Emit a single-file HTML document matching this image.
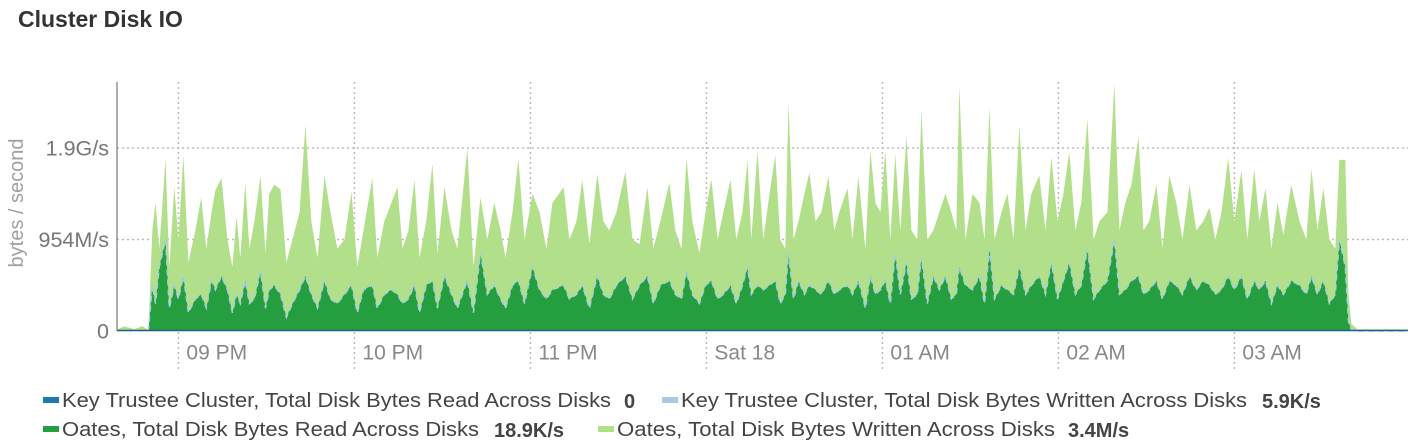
<!DOCTYPE html>
<html><head><meta charset="utf-8"><style>
html,body{margin:0;padding:0;background:#fff;}
svg{display:block;font-family:"Liberation Sans",Arial,sans-serif;}
</style></head><body>
<svg id="chart" width="1414" height="448">
<text x="18" y="27" font-size="23" font-weight="bold" fill="#333">Cluster Disk IO</text>
<g id="grid"></g>
<g id="areas"></g>
<g id="axes"></g>
<g id="legend"></g>
</svg>
<script>
// minutes since 20:00
const tMin = [39.2,41.6,45,47.7,49.8,51.1,52.2,53.5,55.6,56.9,58.6,60,61.7,63.4,65.8,67.8,69.5,71.3,72.6,74.7,76.7,78.4,79.8,81.1,82.8,84.2,85.9,88,89.7,91,92.7,94.8,96.8,98.9,101.3,103.3,105.3,107.4,109.8,111.8,114.2,116.6,119,121,123.1,126.1,127.8,130.2,132.6,134.7,136.4,138.4,140.5,142.2,144.5,146.6,148.3,150.7,153.1,155.1,158.5,160.6,163,165.3,167.7,169.8,171.5,173.9,175.9,178,180.7,183.1,185.5,187.5,191.3,193.3,195.7,197.7,200.1,202.8,204.9,206.9,209.3,212.4,214.8,217.2,219.9,221.9,224.3,227.4,229.4,231.5,233.2,235.2,237.6,239.7,241.7,243.8,245.8,248.2,250.2,252.3,254,255.3,257.4,259.4,261.5,263.5,265.2,266.9,268,269.7,271.4,273.4,275.1,277.2,279.2,281.6,283.6,285.3,288.1,289.8,291.8,294.2,295.9,297.6,299.3,301,302.7,304.4,306.1,308.2,309.9,311.9,313.3,315.3,317.4,319.4,321.5,323.5,325.2,326.2,328.3,330.7,333.1,334.8,336.5,338.2,340.6,342.6,344.7,346.7,348.8,350.8,353.5,355.6,357.6,359.7,361.7,363.7,365.8,367.8,369.9,372,374,376.7,379.1,380.8,382.8,384.9,387.3,389,391,393.4,395.5,397.8,400.2,402.3,404.7,407,409.4,411.5,413.5,415.6,417.9,420,422.4,424.4,426.8,428.5,430.6,432.6,434.7,436.7,439.4,442.2,444.5,446.3,448.3,450.3,452.4,454.4,455.8,457.8,458.9,459.9,461.9,479];
// Oates written (MB/s)
const writtenMB = [20,50,20,55,10,1100,1400,900,1880,700,1570,1000,1920,750,1100,1460,900,1300,1540,1670,1000,700,1250,800,1620,900,1200,1690,850,1500,1600,1550,750,1000,1300,2250,1200,800,1700,1300,900,1000,1520,700,1100,1670,800,1200,1400,1570,900,1100,1650,800,1200,1830,850,1570,1100,900,2000,700,1460,1000,1400,1100,800,1300,1880,1000,1500,1300,900,1400,1570,1000,1200,1650,950,1715,1200,1100,1300,1740,1000,950,1570,900,1200,1620,1100,900,1890,1200,850,1300,1660,1000,1300,1650,1000,1300,1870,1000,1970,1000,1500,1920,1000,900,2500,1000,1200,1500,1730,1200,1300,1690,1100,1300,1560,1000,1690,900,1970,1400,1300,1970,1000,1930,1100,2130,1100,1000,2420,1000,1100,1300,1500,1300,1100,2680,1000,1500,1400,1000,2450,1000,1300,1500,1000,2240,1100,1500,1700,1100,1900,1200,1500,1960,1100,1400,2320,1000,1200,1300,2700,1100,1400,1600,2120,1100,1200,1600,900,1700,1400,1000,1600,1100,1200,1350,1000,1300,1890,1200,1760,1000,1770,1200,1560,900,1400,1050,1600,1200,1000,1770,1100,1560,1000,900,1870,1870,400,80,20,20];
// Oates read (MB/s)
const readMB = [5,5,5,5,5,500,300,700,1000,250,500,350,600,200,350,400,250,550,450,600,450,200,400,300,550,300,350,650,250,450,500,400,150,300,450,600,400,250,550,350,300,400,500,200,450,500,250,400,450,400,300,350,500,200,500,550,250,600,400,250,550,200,850,400,500,350,250,500,550,300,700,450,350,450,500,350,400,500,250,600,400,350,500,600,350,500,600,300,500,550,400,350,650,400,300,500,550,350,400,500,300,500,700,400,500,450,500,550,300,400,850,350,550,400,500,450,400,550,400,450,500,400,550,250,600,400,450,550,300,850,400,750,350,400,800,300,600,450,600,350,400,700,500,450,600,300,900,350,500,450,400,700,400,500,600,400,750,350,550,750,400,500,900,350,450,550,1000,400,450,550,600,400,450,550,350,550,500,400,600,450,550,500,400,450,600,450,600,350,550,450,550,300,500,400,550,500,400,600,400,550,300,400,1000,700,100,10,0,0];
const yTickVals = [0, 1000, 2000];
const yTickLabels = ["0", "954M/s", "1.9G/s"];
const xTickMins = [60,120,180,240,300,360,420];
const xTickLabels = ["09 PM","10 PM","11 PM","Sat 18","01 AM","02 AM","03 AM"];

const NS="http://www.w3.org/2000/svg";
const X0=117.4, PXM=2.9333, Y0=331, PYU=0.0915;
const xs=t=>X0+(t-39.2)*PXM;
const ys=v=>Y0-v*PYU;
function mk(tag,attrs,parent){const e=document.createElementNS(NS,tag);for(const k in attrs)e.setAttribute(k,attrs[k]);parent.appendChild(e);return e;}
const grid=document.getElementById('grid'),areas=document.getElementById('areas'),axes=document.getElementById('axes'),legend=document.getElementById('legend');

yTickVals.forEach((v,i)=>{
  if(v>0){const l=mk('line',{x1:117,x2:1408,y1:ys(v),y2:ys(v),stroke:'#bbb','stroke-width':1.5,'stroke-dasharray':'2,3'},grid);
  
  }
  const t=mk('text',{x:109,y:ys(v)+7.5,'text-anchor':'end','font-size':21.5,fill:'#777'},axes);
  t.textContent=yTickLabels[i];
  
  
});
xTickMins.forEach((m,i)=>{
  const l=mk('line',{x1:xs(m),x2:xs(m),y1:82,y2:372,stroke:'#bbb','stroke-width':1.5,'stroke-dasharray':'2,3'},grid);
  
  
  const t=mk('text',{x:xs(m)+8,y:359.5,'font-size':21,fill:'#888'},axes);
  t.textContent=xTickLabels[i];
  
  
});
function areaPath(vals){let d='M'+xs(tMin[0])+','+Y0;tMin.forEach((t,i)=>{d+=' L'+xs(t).toFixed(1)+','+ys(vals[i]).toFixed(1);});d+=' L'+xs(tMin[tMin.length-1])+','+Y0+'Z';return d;}
function linePath(vals){return tMin.map((t,i)=>(i?'L':'M')+xs(t).toFixed(1)+','+ys(vals[i]).toFixed(1)).join(' ');}
const aw=mk('path',{d:areaPath(writtenMB),fill:'#b2df8a'},areas);


const ar=mk('path',{d:areaPath(readMB),fill:'#249e3e'},areas);


const kt=mk('path',{d:linePath(readMB),fill:'none',stroke:'#a6cee3','stroke-width':1.5,'stroke-dasharray':'6,4'},areas);


const kr=mk('line',{x1:117,x2:1408,y1:330.5,y2:330.5,stroke:'#1f5f8b','stroke-width':1.5},areas);


const ya=mk('line',{x1:117,x2:117,y1:82,y2:331,stroke:'#777','stroke-width':1.2},axes);


const yt=mk('text',{x:0,y:0,'font-size':20,fill:'#a0a0a0','text-anchor':'middle',transform:'translate(23,203) rotate(-90)'},axes);
yt.textContent='bytes / second';



const legNames=["Key Trustee Cluster, Total Disk Bytes Read Across Disks","Key Trustee Cluster, Total Disk Bytes Written Across Disks","Oates, Total Disk Bytes Read Across Disks","Oates, Total Disk Bytes Written Across Disks"];
const legVals=["0","5.9K/s","18.9K/s","3.4M/s"];
const legColors=['#1f78b4','#a6cee3','#249e3e','#b2df8a'];
const legX=[43,662,43,598], legY=[400,400,429,429], legW=[549,566,417,438], legValX=[624,1262,494,1068];
legNames.forEach((n,i)=>{
  const g=mk('g',{},legend);
  
  
  mk('rect',{x:legX[i],y:legY[i]-3,width:16,height:6,fill:legColors[i]},g);
  const t=mk('text',{x:legX[i]+19,y:legY[i]+7,'font-size':20,fill:'#444',textLength:legW[i],lengthAdjust:'spacingAndGlyphs'},g);
  t.textContent=n;
  const v=mk('text',{x:legValX[i],y:legY[i]+8,'font-size':20,'font-weight':'bold',fill:'#444'},g);
  v.textContent=legVals[i];
});
</script>
</body></html>
